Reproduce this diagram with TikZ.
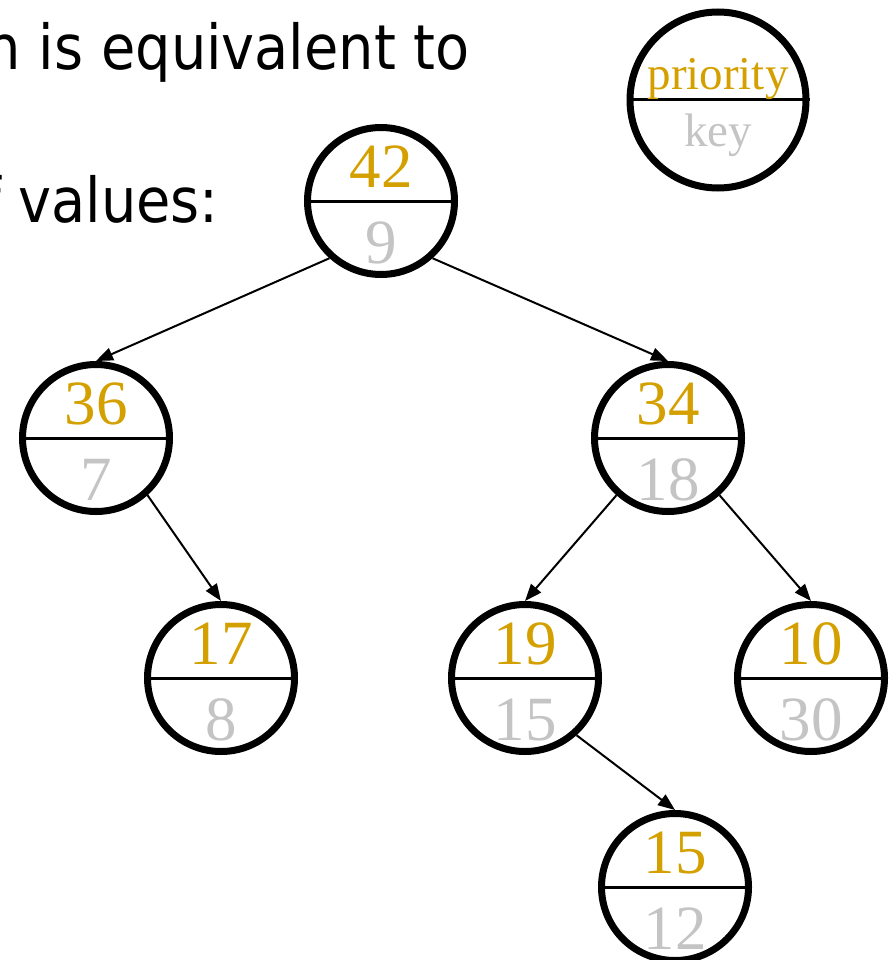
\documentclass[tikz,border=0pt]{standalone}
\usepackage{fontspec}
\setmainfont{Liberation Serif}
\newfontfamily\headfont{DejaVu Sans Condensed}
\usetikzlibrary{arrows.meta}

\definecolor{prio}{RGB}{212,160,0}
\definecolor{keygray}{RGB}{196,196,196}

\tikzset{
  heapnode/.style={circle, draw=black, line width=7pt, minimum size=147pt, inner sep=0pt},
  legendnode/.style={circle, draw=black, line width=7pt, minimum size=176pt, inner sep=0pt},
  divider/.style={line width=3pt},
  pri/.style={anchor=base, inner sep=0pt, text=prio, font=\fontsize{63}{70}\selectfont},
  keyv/.style={anchor=base, inner sep=0pt, text=keygray, font=\fontsize{63}{70}\selectfont},
  lpri/.style={anchor=base, inner sep=0pt, text=prio, font=\fontsize{47}{54}\selectfont},
  lkey/.style={anchor=base, inner sep=0pt, text=keygray, font=\fontsize{47}{54}\selectfont},
  edge/.style={line width=2pt, -{Triangle[length=17pt,width=13pt]}},
  headtext/.style={inner sep=0pt, font=\headfont\fontsize{62}{74}\selectfont}
}

\begin{document}
\begin{tikzpicture}[x=1pt, y=-1pt]
  \useasboundingbox (0,0) rectangle (892,960);
  \clip (0,0) rectangle (892,960);

  % heading text, running in from the left edge
  \node[headtext, anchor=base east] (line1) at (470,70) {n is equivalent to};
  \node[headtext, anchor=base east] (line2) at (219,222) {f values:};

  % legend
  \node[legendnode] (leg) at (718,100) {};
  \draw[divider] (leg.west) -- (leg.east);
  \node[lpri] (legp) at ([yshift=10pt]leg.center) {priority};
  \node[lkey] (legk) at ([yshift=-47pt]leg.center) {key};

  % treap nodes
  \foreach \nm/\x/\y/\p/\k in {n42/381/201/42/9, n36/96/438/36/7, n34/668/438/34/18,
      n17/221/678/17/8, n19/525/678/19/15, n10/811/678/10/30, n15/675/887/15/12}{
    \node[heapnode] (\nm) at (\x,\y) {};
    \draw[divider] (\nm.west) -- (\nm.east);
    \node[pri] (\nm p) at ([yshift=14pt]\nm.center) {\p};
    \node[keyv] (\nm k) at ([yshift=-62pt]\nm.center) {\k};
  }

  % tree edges
  \draw[edge] (n42.228) -- (n36.north);
  \draw[edge] (n42.-48) -- (n34.north);
  \draw[edge] (n36.-48) -- (n17.north);
  \draw[edge] (n34.228) -- (n19.north);
  \draw[edge] (n34.-48) -- (n10.north);
  \draw[edge] (n19.-48) -- (n15.north);
\end{tikzpicture}
\end{document}
